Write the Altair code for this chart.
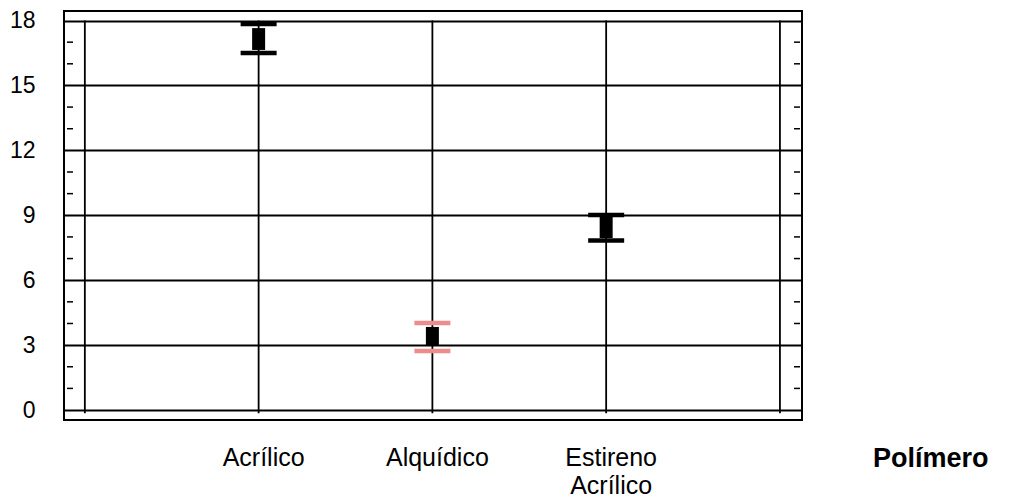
import altair as alt
import pandas as pd

# ---- data ----
polimeros = ["Acrílico", "Alquídico", "Estireno\nAcrílico"]
posicion = [1, 2, 3]
limite_sup = [17.84, 4.02, 9.01]
limite_inf = [16.50, 2.73, 7.83]
obs_max = [17.65, 3.84, 8.92]
obs_min = [16.64, 3.00, 7.95]
colores = ["#000000", "#ee8c8c", "#000000"]

y_ticks = [0, 3, 6, 9, 12, 15, 18]
y_minor = [v for v in range(1, 18) if v % 3 != 0]
x_lines = [0, 1, 2, 3, 4]

df = pd.DataFrame({
    "polimero": polimeros,
    "pos": posicion,
    "sup": limite_sup,
    "inf": limite_inf,
    "omax": obs_max,
    "omin": obs_min,
})
df_minor = pd.DataFrame({"v": y_minor})
df_vlines = pd.DataFrame({"x": x_lines, "y0": [-0.15] * 5, "y1": [18] * 5})

xscale = alt.Scale(domain=[-0.12, 4.127], nice=False, zero=False)
yscale = alt.Scale(domain=[-0.46, 18.44], nice=False, zero=False)
color = alt.Color("polimero:N", scale=alt.Scale(domain=polimeros, range=colores), legend=None)

y_axis = alt.Axis(values=y_ticks, grid=True, gridColor="black", gridWidth=1.8,
                  gridOpacity=1, domain=False, ticks=False, tickSize=0,
                  labelFontSize=23, labelFont="Liberation Sans", labelColor="black",
                  labelPadding=29, title=None)


def Y(field):
    return alt.Y(field, scale=yscale, axis=y_axis)


def X(field):
    return alt.X(field, scale=xscale, axis=None)


vlines = alt.Chart(df_vlines).mark_rule(color="black", strokeWidth=1.8).encode(
    x=X("x:Q"), y=Y("y0:Q"), y2="y1:Q",
)

minor_left = alt.Chart(df_minor).mark_rule(color="black", strokeWidth=1.5).encode(
    x=alt.value(3), x2=alt.value(9), y=Y("v:Q")
)
minor_right = alt.Chart(df_minor).mark_rule(color="black", strokeWidth=1.5).encode(
    x=alt.value(730), x2=alt.value(736), y=Y("v:Q")
)

caps_top = alt.Chart(df).mark_tick(orient="horizontal", size=36, thickness=4.5, opacity=1).encode(
    x=X("pos:Q"), y=Y("sup:Q"), color=color,
)
caps_bot = alt.Chart(df).mark_tick(orient="horizontal", size=36, thickness=4.5, opacity=1).encode(
    x=X("pos:Q"), y=Y("inf:Q"), color=color,
)
blob = alt.Chart(df).mark_rule(color="black", strokeWidth=13).encode(
    x=X("pos:Q"), y=Y("omin:Q"), y2="omax:Q",
)

labels = alt.Chart(df).mark_text(
    fontSize=25, font="Liberation Sans", color="black", align="center",
    baseline="alphabetic", lineBreak="\n", lineHeight=28, dx=5
).encode(
    x=X("pos:Q"),
    y=alt.value(455),
    text="polimero:N",
)

titulo = alt.Chart(pd.DataFrame({"t": ["Polímero"]})).mark_text(
    fontSize=27, font="Liberation Sans", fontWeight="bold", color="black",
    align="left", baseline="alphabetic"
).encode(x=alt.value(809), y=alt.value(456), text="t:N")

chart = alt.layer(
    vlines, minor_left, minor_right, caps_top, caps_bot, blob, labels, titulo
).properties(
    width=738, height=409,
    background="white",
    autosize=alt.AutoSizeParams(type="none"),
    padding={"left": 56, "top": 3, "right": 201, "bottom": 80},
).configure_view(
    stroke="black", strokeWidth=2
)

chart.save("out.html", embed_options={"renderer": "svg", "actions": False})
